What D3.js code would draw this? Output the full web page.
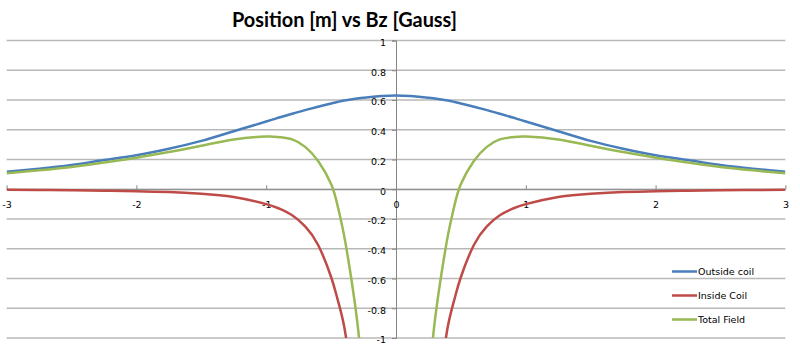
<!DOCTYPE html>
<html>
<head>
<meta charset="utf-8">
<script src="https://cdn.jsdelivr.net/npm/d3@7"></script>
<style>
  body { margin: 0; background: #fff; }
  svg { display: block; }
</style>
</head>
<body>
<script>
const positions = [-3, -2.75, -2.5, -2.25, -2, -1.75, -1.5, -1.25, -1, -0.9, -0.8, -0.7, -0.6, -0.5, -0.45, -0.4, -0.35, -0.3, -0.25, 0,
  0.25, 0.3, 0.35, 0.4, 0.45, 0.5, 0.6, 0.7, 0.8, 0.9, 1, 1.25, 1.5, 1.75, 2, 2.25, 2.5, 2.75, 3]

const outsideCoil = [0.118, 0.138, 0.163, 0.196, 0.228, 0.272, 0.325, 0.39, 0.455, 0.482, 0.508, 0.532, 0.555, 0.577, 0.587, 0.596, 0.603, 0.61, 0.615, 0.63,
  0.615, 0.61, 0.603, 0.596, 0.587, 0.577, 0.555, 0.532, 0.508, 0.482, 0.455, 0.39, 0.325, 0.272, 0.228, 0.196, 0.163, 0.138, 0.118]

// null at 0: the inside coil field runs off the chart there
const insideCoil = [-0.004, -0.005, -0.007, -0.01, -0.013, -0.019, -0.03, -0.052, -0.1, -0.13, -0.175, -0.25, -0.375, -0.59, -0.74, -0.92, -1.2, -1.55, -2.2, null,
  -2.2, -1.55, -1.2, -0.92, -0.74, -0.59, -0.375, -0.25, -0.175, -0.13, -0.1, -0.052, -0.03, -0.019, -0.013, -0.01, -0.007, -0.005, -0.004]

const totalField = [0.107, 0.127, 0.15, 0.18, 0.212, 0.25, 0.292, 0.335, 0.354, 0.35, 0.335, 0.285, 0.19, 0.035, -0.11, -0.31, -0.57, -0.88, -1.3, null,
  -1.3, -0.88, -0.57, -0.31, -0.11, 0.035, 0.19, 0.285, 0.335, 0.35, 0.354, 0.335, 0.292, 0.25, 0.212, 0.18, 0.15, 0.127, 0.107]

const seriesNames = ['Outside coil', 'Inside Coil', 'Total Field']
const seriesColors = ['#4a7ebb', '#be4b48', '#98b954']
const xTicks = [-3, -2, -1, 0, 1, 2, 3]
const yTicks = [-1, -0.8, -0.6, -0.4, -0.2, 0, 0.2, 0.4, 0.6, 0.8, 1]

const width = 800
const height = 363

const svg = d3.select('body').append('svg').attr('width', width).attr('height', height)

const xScale = d3.scaleLinear().domain([-3, 3]).range([6.6, 785.4])
const yScale = d3.scaleLinear().domain([-1, 1]).range([338, 40.5])

// title
svg.append('text')
  .text('Position [m] vs Bz [Gauss]')
  .attr('x', 232).attr('y', 27)
  .attr('textLength', 225).attr('lengthAdjust', 'spacingAndGlyphs')
  .style('font-family', 'Lato, "Open Sans", sans-serif')
  .style('font-weight', 'bold')
  .style('font-size', '21px')
  .attr('fill', '#000')

// gridlines
svg.append('g').selectAll('line')
  .data(yTicks)
  .enter().append('line')
  .attr('x1', xScale(-3)).attr('x2', xScale(3))
  .attr('y1', d => yScale(d)).attr('y2', d => yScale(d))
  .attr('stroke', '#b8b8b8').attr('stroke-width', 1.5)

// axes through zero
const yAxis = d3.axisLeft(yScale).tickValues(yTicks).tickSize(4).tickPadding(6).tickFormat(d => String(d))
const xAxis = d3.axisBottom(xScale).tickValues(xTicks).tickSize(0).tickPadding(12).tickFormat(d => String(d))

const gy = svg.append('g').attr('transform', `translate(${xScale(0)},0)`).call(yAxis)
const gx = svg.append('g').attr('transform', `translate(0,${yScale(0)})`).call(xAxis)

gy.select('.domain').attr('stroke', '#868686')
gx.select('.domain').attr('stroke', '#868686')
gy.selectAll('.tick line').attr('stroke', '#868686')
gx.selectAll('.tick').append('line').attr('y1', -4).attr('y2', 0).attr('stroke', '#868686')
svg.selectAll('.tick text')
  .style('font-family', '"DejaVu Sans", sans-serif')
  .style('font-size', '9.5px')
  .attr('fill', '#000')
gy.selectAll('.tick text').attr('dy', '0.5em')

// clip to plot area
svg.append('clipPath').attr('id', 'plot-clip')
  .append('rect')
  .attr('x', xScale(-3)).attr('y', yScale(1))
  .attr('width', xScale(3) - xScale(-3)).attr('height', yScale(-1) - yScale(1))

const line = d3.line()
  .defined(d => d[1] !== null)
  .x(d => xScale(d[0]))
  .y(d => yScale(d[1]))
  .curve(d3.curveNatural)

const allSeries = [outsideCoil, insideCoil, totalField]

svg.append('g').attr('clip-path', 'url(#plot-clip)')
  .selectAll('path')
  .data(allSeries)
  .enter().append('path')
  .attr('d', s => line(positions.map((p, i) => [p, s[i]])))
  .attr('fill', 'none')
  .attr('stroke', (d, i) => seriesColors[i])
  .attr('stroke-width', 2.5)

// legend
const legend = svg.append('g').selectAll('g')
  .data(seriesNames)
  .enter().append('g')
  .attr('transform', (d, i) => `translate(672,${271.5 + i * 24})`)

legend.append('line')
  .attr('x1', 0).attr('x2', 25)
  .attr('stroke', (d, i) => seriesColors[i])
  .attr('stroke-width', 2.5)

legend.append('text')
  .text(d => d)
  .attr('x', 26).attr('y', 3.5)
  .style('font-family', '"DejaVu Sans", sans-serif')
  .style('font-size', '9.5px')
  .attr('fill', '#000')
</script>
</body>
</html>
